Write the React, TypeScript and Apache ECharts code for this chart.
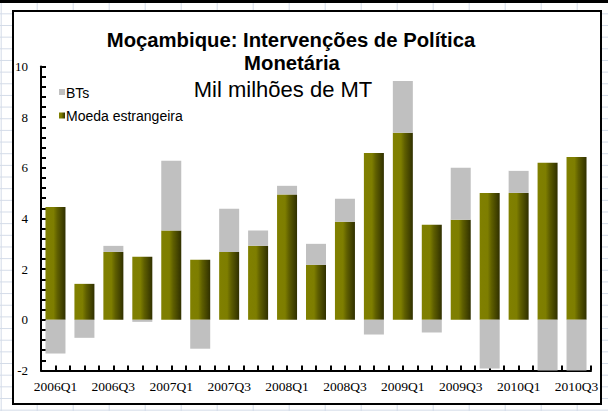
import React, { useEffect, useRef } from "react";
import * as echarts from "echarts";

const categories = [
  "2006Q1", "2006Q2", "2006Q3", "2006Q4",
  "2007Q1", "2007Q2", "2007Q3", "2007Q4",
  "2008Q1", "2008Q2", "2008Q3", "2008Q4",
  "2009Q1", "2009Q2", "2009Q3", "2009Q4",
  "2010Q1", "2010Q2", "2010Q3",
];
const moedaEstrangeira = [4.45, 1.42, 2.68, 2.49, 3.53, 2.37, 2.68, 2.92, 4.95, 2.17, 3.87, 6.59, 7.38, 3.75, 3.95, 5.01, 5.01, 6.2, 6.43];
const bts = [-1.33, -0.71, 0.24, -0.08, 2.75, -1.14, 1.7, 0.61, 0.34, 0.83, 0.91, -0.58, 2.05, -0.5, 2.05, -1.92, 0.87, -2.0, -2.0];
const yMin = -2;
const yMax = 10;
const yInterval = 2;
const titleLines = ["Moçambique: Intervenções de Política", "Monetária"];
const subtitle = "Mil milhões de MT";
const legendNames = ["BTs", "Moeda estrangeira"];

export default function App() {
  const ref = useRef<HTMLDivElement>(null);

  useEffect(() => {
    document.body.style.margin = "0";
    if (!ref.current) return;
    const chart = echarts.init(ref.current, undefined, { renderer: "svg" });

    const olive = new echarts.graphic.LinearGradient(0, 0, 1, 0, [
      { offset: 0, color: "#808000" },
      { offset: 0.4, color: "#7e7e00" },
      { offset: 0.6, color: "#5e5e00" },
      { offset: 1, color: "#303000" },
    ]);
    const oliveLegend = new echarts.graphic.LinearGradient(0, 0, 1, 0, [
      { offset: 0, color: "#808000" },
      { offset: 0.4, color: "#7c7c00" },
      { offset: 1, color: "#303000" },
    ]);

    const halfTicks = new Array(categories.length * 2).fill("");
    const tickColor = "#000";

    chart.setOption({
      animation: false,
      backgroundColor: "transparent",
      grid: { left: 41, right: 17, top: 66.5, bottom: 40.5, containLabel: false },
      xAxis: [
        {
          type: "category",
          data: categories,
          axisLine: { onZero: false, lineStyle: { color: "#000", width: 2 } },
          axisTick: { show: false },
          axisLabel: {
            interval: 1,
            color: "#000",
            fontFamily: "Liberation Serif",
            fontSize: 13.5,
            margin: 9,
          },
          splitLine: { show: false },
        },
        {
          type: "category",
          data: halfTicks,
          position: "bottom",
          gridIndex: 0,
          axisLine: { show: false, onZero: false },
          axisTick: { show: true, inside: true, length: 5, interval: 0, lineStyle: { color: tickColor, width: 2 } },
          axisLabel: { show: false },
          splitLine: { show: false },
        },
      ],
      yAxis: {
        type: "value",
        min: yMin,
        max: yMax,
        interval: yInterval,
        axisLine: { show: true, lineStyle: { color: "#000", width: 2 } },
        axisTick: { show: true, inside: true, length: 5, lineStyle: { color: tickColor, width: 2 } },
        minorTick: { show: true, splitNumber: 5, length: 5, lineStyle: { color: tickColor, width: 2 } },
        axisLabel: {
          color: "#000",
          fontFamily: "Liberation Serif",
          fontSize: 13,
          margin: 13,
        },
        splitLine: { show: false },
      },
      legend: { show: false },
      series: [
        {
          name: legendNames[1],
          type: "bar",
          stack: "total",
          data: moedaEstrangeira,
          barWidth: 20,
          itemStyle: { color: olive },
        },
        {
          name: legendNames[0],
          type: "bar",
          stack: "total",
          data: bts,
          barWidth: 20,
          itemStyle: { color: "#c0c0c0" },
        },
      ],
      graphic: [
        {
          type: "text",
          x: 291,
          y: 39.7,
          style: {
            text: titleLines[0],
            fontFamily: "Liberation Sans",
            fontWeight: "bold",
            fontSize: 20.3,
            fill: "#000",
            align: "center",
            verticalAlign: "middle",
          },
        },
        {
          type: "text",
          x: 292,
          y: 63,
          style: {
            text: titleLines[1],
            fontFamily: "Liberation Sans",
            fontWeight: "bold",
            fontSize: 20.3,
            fill: "#000",
            align: "center",
            verticalAlign: "middle",
          },
        },
        {
          type: "text",
          x: 283,
          y: 89,
          style: {
            text: subtitle,
            fontFamily: "Liberation Sans",
            fontSize: 22,
            fill: "#000",
            align: "center",
            verticalAlign: "middle",
          },
        },
        { type: "rect", shape: { x: 59, y: 89, width: 6, height: 6 }, style: { fill: "#c0c0c0" } },
        {
          type: "text",
          x: 66,
          y: 92.5,
          style: { text: legendNames[0], fontFamily: "Liberation Sans", fontSize: 14, fill: "#000", align: "left", verticalAlign: "middle" },
        },
        { type: "rect", shape: { x: 59, y: 112.5, width: 6, height: 6 }, style: { fill: oliveLegend } },
        {
          type: "text",
          x: 66,
          y: 116,
          style: { text: legendNames[1], fontFamily: "Liberation Sans", fontSize: 14, fill: "#000", align: "left", verticalAlign: "middle" },
        },
      ],
    });

    return () => chart.dispose();
  }, []);

  return (
    <div
      style={{
        position: "absolute",
        left: 0,
        top: 0,
        width: 608,
        height: 411,
        backgroundColor: "#fff",
        backgroundImage:
          "linear-gradient(to right, #d3dbe8 1px, transparent 1px), linear-gradient(to bottom, #d3dbe8 1px, transparent 1px)",
        backgroundSize: "36px 11.67px",
        backgroundPosition: "0.7px 1.7px",
        overflow: "hidden",
      }}
    >
      <div style={{ position: "absolute", left: 0, top: 0, width: 608, height: 3, background: "#000" }} />
      <div
        style={{
          position: "absolute",
          left: 12,
          top: 10,
          width: 586,
          height: 391,
          border: "2px solid #000",
          background: "#fff",
        }}
      />
      <div ref={ref} style={{ position: "absolute", left: 0, top: 0, width: 608, height: 411 }} />
    </div>
  );
}
